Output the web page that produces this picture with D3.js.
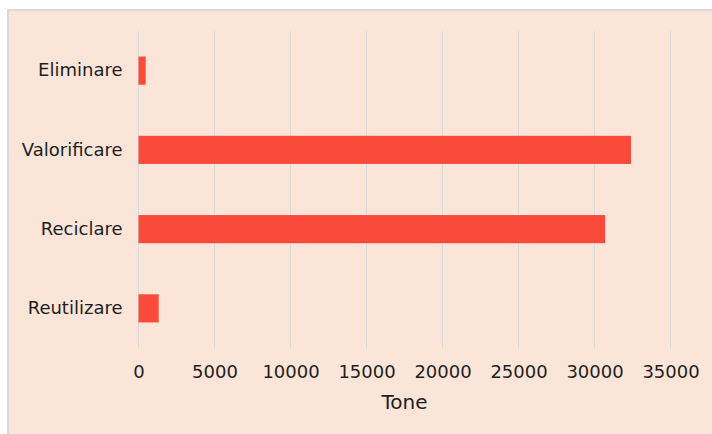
<!DOCTYPE html>
<html>
<head>
<meta charset="utf-8">
<script src="https://cdn.jsdelivr.net/npm/d3@7.9.0/dist/d3.min.js"></script>
<style>
  html, body { margin: 0; padding: 0; background: #fff; }
  svg { display: block; font-family: "DejaVu Sans", Verdana, sans-serif; }
</style>
</head>
<body>
<svg id="chart" width="712" height="434"></svg>
<script>
// === Data ===
const categories = ['Eliminare', 'Valorificare', 'Reciclare', 'Reutilizare'];
const values = [470, 32400, 30700, 1330];
const xTicks = [0, 5000, 10000, 15000, 20000, 25000, 30000, 35000];
const xTitle = 'Tone';

const width = 712, height = 434;
const margin = { top: 31, right: 41.5, bottom: 86, left: 138.5 };

const svg = d3.select('#chart');

// panel background + border (cropped on the right/bottom)
svg.append('rect')
  .attr('x', 8).attr('y', 10)
  .attr('width', width + 10).attr('height', height + 10)
  .attr('fill', '#fae5d8')
  .attr('stroke', '#d9d9d9')
  .attr('stroke-width', 2);

const x = d3.scaleLinear()
  .domain([0, 35000])
  .range([margin.left, width - margin.right]);

const y = d3.scaleBand()
  .domain(categories)
  .range([margin.top, height - margin.bottom])
  .paddingInner(0.645)
  .paddingOuter(0.3225);

// gridlines
svg.append('g')
  .selectAll('line')
  .data(xTicks)
  .join('line')
  .attr('x1', d => x(d)).attr('x2', d => x(d))
  .attr('y1', margin.top).attr('y2', height - margin.bottom)
  .attr('stroke', '#d9d9d9')
  .attr('stroke-width', 1);

// bars
svg.append('g')
  .selectAll('rect')
  .data(categories)
  .join('rect')
  .attr('x', x(0))
  .attr('y', d => y(d))
  .attr('width', (d, i) => x(values[i]) - x(0))
  .attr('height', y.bandwidth())
  .attr('fill', '#fa4a3a');

// x axis labels
const xAxis = d3.axisBottom(x).tickValues(xTicks).tickFormat(d3.format('d')).tickSize(0).tickPadding(17);
const gx = svg.append('g')
  .attr('transform', `translate(0,${height - margin.bottom})`)
  .call(xAxis);
gx.select('.domain').remove();
gx.selectAll('text')
  .attr('font-size', 18)
  .attr('font-family', '"DejaVu Sans", Verdana, sans-serif')
  .attr('fill', '#1e1e1e');

// y axis labels
const yAxis = d3.axisLeft(y).tickSize(0).tickPadding(16);
const gy = svg.append('g')
  .attr('transform', `translate(${margin.left},0)`)
  .call(yAxis);
gy.select('.domain').remove();
gy.selectAll('text')
  .attr('font-size', 18)
  .attr('font-family', '"DejaVu Sans", Verdana, sans-serif')
  .attr('fill', '#1e1e1e');

// axis title
svg.append('text')
  .attr('x', (x(0) + x(35000)) / 2)
  .attr('y', 409)
  .attr('text-anchor', 'middle')
  .attr('font-size', 20)
  .attr('fill', '#1e1e1e')
  .text(xTitle);
</script>
</body>
</html>
